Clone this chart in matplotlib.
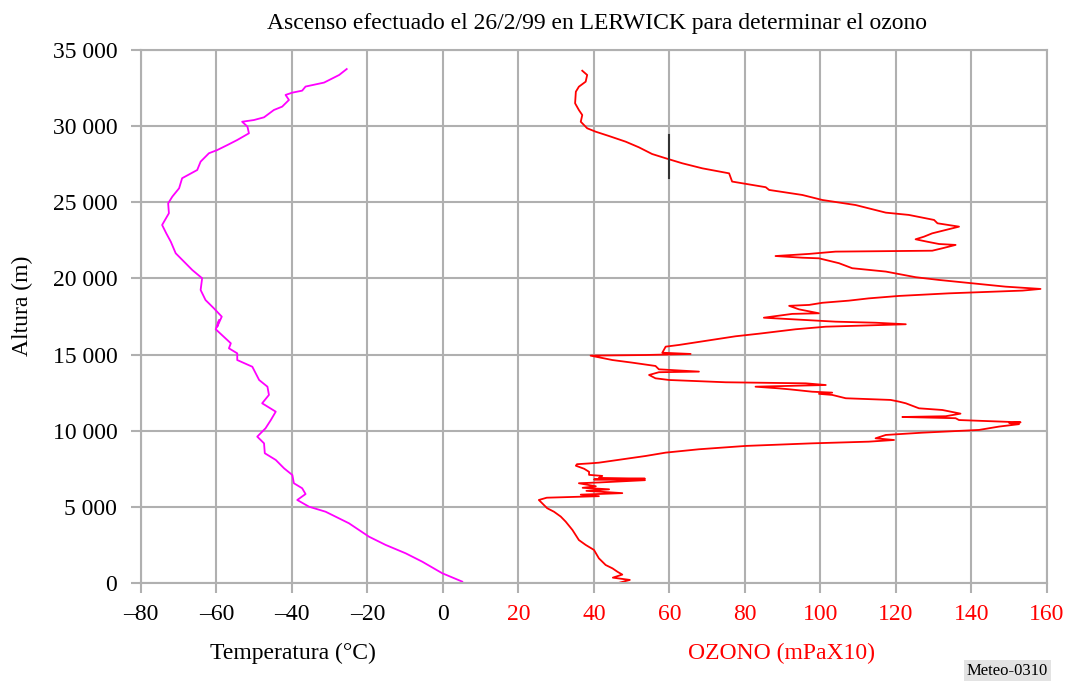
import matplotlib
matplotlib.use("Agg")
import matplotlib.pyplot as plt

plt.rcParams["font.family"] = ["Liberation Serif", "DejaVu Serif"]

# Temperature profile (°C) vs altitude (m)
temp_c = [5.1, -0.2, -5.5, -9.9, -15.2, -19.6, -24.9, -31.1, -35.5, -38.6, -36.4, -37.3,
          -39.5, -39.9, -42.1, -44.3, -47.2, -47.4, -49.2, -47.0, -45.6, -44.3, -47.9,
          -46.1, -46.5, -48.7, -50.5, -54.5, -54.5, -56.7, -56.2, -60.2, -59.3, -59.8,
          -58.6, -60.7, -62.9, -64.2, -63.8, -66.4, -68.6, -70.8, -72.1, -73.3, -74.4,
          -72.6, -72.8, -71.7, -69.9, -69.1, -65.1, -64.2, -62.0, -59.8, -57.1, -54.5,
          -51.4, -51.8, -53.2, -50.1, -47.4, -44.8, -42.6, -40.8, -41.7, -39.9, -37.3,
          -36.4, -31.5, -27.5, -25.5]
temp_alt = [90, 640, 1400, 1950, 2500, 3040, 3920, 4680, 5010, 5450, 5840, 6220,
            6550, 7090, 7530, 8080, 8520, 9170, 9610, 10160, 10700, 11250, 11800,
            12350, 12890, 13330, 14200, 14640, 15080, 15410, 15740, 16660, 17270, 16830,
            17490, 18040, 18580, 19240, 20010, 20550, 21100, 21650, 22410, 22960, 23510,
            24280, 24930, 25370, 25920, 26580, 27120, 27670, 28220, 28430, 28760, 29090,
            29530, 29970, 30290, 30400, 30580, 31060, 31280, 31720, 32050, 32200, 32330,
            32600, 32860, 33360, 33750]

# Ozone partial pressure (mPa x 10) vs altitude (m)
ozone = [46.5, 49.5, 45.0, 47.5, 46.2, 44.9, 43.1, 41.3, 40.0, 37.8, 36.0, 34.3, 32.5,
         31.2, 29.4, 27.6, 25.4, 27.5, 41.3, 36.5, 47.5, 38.0, 44.0, 37.0, 40.5, 36.0,
         41.3, 53.5, 40.0, 53.5, 41.3, 42.2, 38.7, 38.7, 37.4, 35.2, 35.5, 38.7, 41.3,
         47.5, 53.7, 59.0, 67.8, 80.2, 97.8, 112.8, 119.5, 114.6, 117.3, 127.0, 142.0,
         147.3, 152.6, 150.0, 153.0, 136.7, 135.8, 121.7, 133.2, 137.1, 132.3, 126.1,
         122.6, 120.8, 118.6, 106.7, 103.1, 99.6, 103.1, 97.8, 91.7, 89.0, 82.8, 91.7,
         101.4, 96.1, 74.9, 59.9, 56.3, 54.6, 57.2, 67.8, 57.2, 56.3, 50.1, 44.9, 41.3,
         39.1, 53.7, 65.6, 58.1, 59.0, 62.5, 69.6, 77.5, 83.7, 93.4, 101.4, 115.5, 122.6,
         114.6, 104.0, 85.0, 92.5, 99.6, 94.3, 91.7, 97.0, 100.5, 107.5, 112.8, 120.8,
         134.0, 153.5, 158.3, 149.0, 140.2, 131.4, 125.2, 117.3, 108.4, 104.9, 99.6,
         95.2, 88.1, 97.0, 104.0, 129.6, 132.3, 135.8, 131.4, 128.3, 125.2, 127.4, 129.6,
         133.2, 136.7, 131.0, 130.1, 123.4, 117.3, 109.3, 100.5, 95.2, 86.4, 85.5, 76.6,
         75.8, 68.7, 63.4, 59.0, 55.4, 51.9, 48.4, 44.0, 40.4, 38.2, 36.5, 36.9, 36.0,
         35.0, 35.2, 36.0, 37.8, 38.2, 36.9]
ozone_alt = [0, 200, 350, 550, 740, 960, 1180, 1620, 2170, 2500, 2820, 3480, 4030,
             4360, 4680, 4910, 5450, 5600, 5700, 5800, 5900, 6050, 6150, 6250, 6350, 6550,
             6600, 6750, 6800, 6850, 6900, 7030, 7100, 7300, 7500, 7700, 7800, 7850, 7900,
             8120, 8340, 8560, 8780, 9000, 9170, 9280, 9390, 9500, 9720, 9870, 10050,
             10270, 10430, 10500, 10550, 10700, 10820, 10900, 10950, 11120, 11360, 11470,
             11800, 11910, 12020, 12130, 12350, 12420, 12500, 12560, 12720, 12780, 12890, 12940,
             13000, 13110, 13180, 13330, 13440, 13660, 13840, 13880, 14030, 14250, 14470, 14640, 14820,
             14930, 14970, 15040, 15120, 15520, 15630, 15900, 16200, 16370, 16660, 16830, 16940, 16990,
             17090, 17160, 17420, 17670, 17710, 17970, 18200, 18260, 18400, 18540, 18690, 18850,
             19020, 19200, 19310, 19460, 19680, 19900, 20080, 20450, 20670, 21000, 21320,
             21360, 21470, 21610, 21760, 21820, 21980, 22200, 22260, 22410, 22570, 22740, 22960,
             23180, 23400, 23620, 23840, 24170, 24320, 24820, 25150, 25480, 25810, 25990, 26360,
             26900, 27230, 27560, 27890, 28170, 28610, 28980, 29350, 29640, 29860, 30290, 30730, 31060,
             31500, 32260, 32590, 32920, 33360, 33640]

# error mark on the ozone profile
mark_x = 60
mark_alt = [26580, 29420]

x_ticks = [-80, -60, -40, -20, 0, 20, 40, 60, 80, 100, 120, 140, 160]
y_ticks = [0, 5000, 10000, 15000, 20000, 25000, 30000, 35000]

fig = plt.figure(figsize=(10.68, 6.84), dpi=100)
ax = fig.add_axes([0.1320, 0.1477, 0.8483, 0.7792])

grid_c = "#b0b0b0"
ax.set_xlim(-80, 160)
ax.set_ylim(0, 35000)
ax.set_xticks(x_ticks)
ax.set_yticks(y_ticks)
ax.grid(True, color=grid_c, linewidth=1.5)
ax.set_axisbelow(True)
for s in ax.spines.values():
    s.set_color(grid_c)
    s.set_linewidth(1.5)
ax.tick_params(direction="out", length=7, width=1.5, color=grid_c, labelsize=17)
ax.tick_params(axis="y", pad=10)
ax.tick_params(axis="x", pad=8)

ax.set_yticklabels([f"{v:,}".replace(",", " ") for v in y_ticks])
xlabels = [("\u2013" + str(-v)) if v < 0 else str(v) for v in x_ticks]
ax.set_xticklabels(xlabels)
for v, lab in zip(x_ticks, ax.get_xticklabels()):
    lab.set_color("red" if v > 0 else "black")

ax.plot(temp_c, temp_alt, color="#ff00ff", linewidth=1.3)
ax.plot(ozone, ozone_alt, color="red", linewidth=1.3)
ax.plot([mark_x, mark_x], mark_alt, color="#333333", linewidth=1.5)

fig.text(0.559, 0.966, "Ascenso efectuado el 26/2/99 en LERWICK para determinar el ozono",
         ha="center", va="center", fontsize=17)
fig.text(0.021, 0.553, "Altura (m)", rotation=90, ha="center", va="center", fontsize=17)
fig.text(0.274, 0.045, "Temperatura (°C)", ha="center", va="center", fontsize=17)
fig.text(0.732, 0.045, "OZONO (mPaX10)", ha="center", va="center", fontsize=17, color="red")
fig.text(0.943, 0.008, "Meteo-0310", ha="center", va="bottom", fontsize=12,
         bbox=dict(facecolor="#e3e3e3", edgecolor="none", pad=2))

fig.savefig("out.png", dpi=100)
